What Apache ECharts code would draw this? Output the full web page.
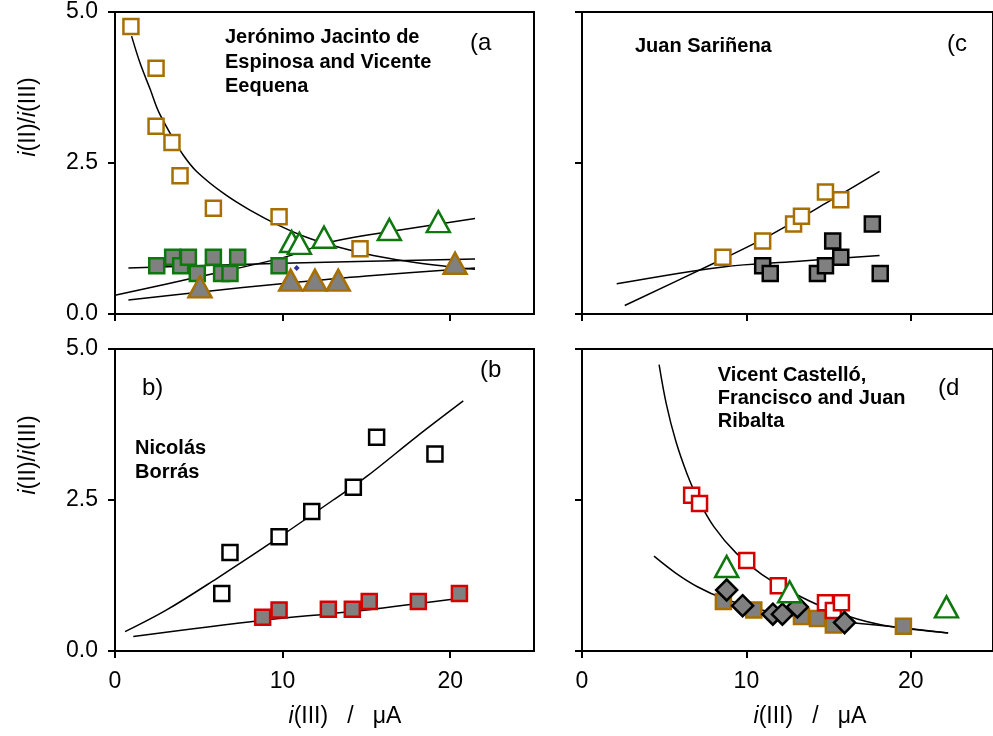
<!DOCTYPE html>
<html><head><meta charset="utf-8">
<script src="https://cdn.jsdelivr.net/npm/echarts@6/dist/echarts.min.js"></script>
<style>html,body{margin:0;padding:0;background:#fff}#c{width:993px;height:736px}</style>
</head><body><div id="c"></div>
<script>
// ---------- data ----------
const xTickValues = [0, 10, 20];
const yTickLabels = ['0.0', '2.5', '5.0'];

// Panel (a) Jerónimo Jacinto de Espinosa and Vicente Eequena
const aTanOpen = [[0.95,4.76],[2.45,4.07],[2.45,3.11],[3.4,2.84],[3.88,2.29],[5.87,1.75],[9.79,1.61],[14.62,1.08]];
const aGreenFilled = [[2.49,0.80],[3.44,0.94],[3.92,0.80],[4.38,0.94],[4.91,0.67],[5.87,0.94],[6.36,0.67],[6.86,0.67],[7.32,0.94],[9.79,0.80]];
const aGreenTri = [[10.54,1.20],[11.0,1.17],[12.47,1.27],[16.37,1.40],[19.29,1.53]];
const aTanTri = [[5.07,0.45],[10.48,0.56],[11.93,0.56],[13.32,0.56],[20.29,0.84]];
const aBlueDot = [[10.84,0.76]];
const aCurveDecay = [[0.99,4.60],[1.5,4.15],[2.1,3.72],[2.6,3.35],[3.4,2.94],[4.1,2.62],[4.87,2.36],[6.46,2.00],[8.05,1.72],[9.84,1.46],[11.63,1.25],[13.42,1.10],[15.41,0.97],[18.0,0.85],[21.48,0.74]];
const aLineFlat = [[0.8,0.76],[10.0,0.84],[21.48,0.91]];
const aLineRise = [[0,0.31],[5.07,0.62],[10.24,0.95],[13.0,1.20],[17.0,1.39],[21.48,1.58]];
const aLineLow = [[0.8,0.23],[5.0,0.36],[10.24,0.51],[15.0,0.63],[21.48,0.76]];

// Panel (c) Juan Sariñena
const cTanOpen = [[8.57,0.94],[10.99,1.21],[12.87,1.49],[13.35,1.62],[14.81,2.02],[15.74,1.89]];
const cGrayFilled = [[10.99,0.80],[11.45,0.67],[14.32,0.67],[14.81,0.80],[15.25,1.21],[15.74,0.94],[17.66,1.49],[18.14,0.67]];
const cLineSteep = [[2.60,0.14],[8.02,0.84],[10.93,1.23],[14.81,1.83],[18.10,2.36]];
const cLineFlat = [[2.11,0.50],[8.57,0.78],[13.0,0.87],[18.1,0.97]];

// Panel (b) Nicolás Borrás
const bBlackOpen = [[6.37,0.95],[6.86,1.63],[9.79,1.89],[11.74,2.31],[14.22,2.71],[15.61,3.54],[19.09,3.26]];
const bRedFilled = [[8.81,0.56],[9.79,0.68],[12.73,0.69],[14.16,0.69],[15.17,0.82],[18.10,0.82],[20.55,0.95]];
const bLineUpper = [[0.6,0.32],[3.08,0.68],[6.07,1.20],[9.25,1.78],[13.02,2.50],[15.02,2.89],[18.0,3.55],[20.78,4.14]];
const bLineLower = [[1.09,0.24],[8.81,0.51],[14.02,0.65],[20.48,0.87]];

// Panel (d) Vicent Castelló, Francisco and Juan Ribalta
const dRedOpen = [[6.67,2.58],[7.15,2.44],[10.02,1.50],[11.94,1.08],[14.81,0.80],[15.29,0.67],[15.78,0.80]];
const dGreenTri = [[8.80,1.40],[12.63,0.98],[22.17,0.73]];
const dTanFilled = [[8.60,0.82],[10.45,0.68],[13.35,0.57],[14.32,0.54],[15.29,0.43],[19.55,0.41]];
const dGrayDiamond = [[8.80,1.01],[9.77,0.75],[11.61,0.61],[12.19,0.61],[13.10,0.73],[15.97,0.47]];
const dCurveSteep = [[4.69,4.74],[5.12,4.10],[5.70,3.48],[6.38,2.94],[7.05,2.52],[8.02,2.06],[9.38,1.62],[10.93,1.27],[12.87,0.96],[14.81,0.71],[16.74,0.53],[18.68,0.41],[22.27,0.30]];
const dCurveGentle = [[4.38,1.57],[5.70,1.29],[7.05,1.06],[8.60,0.87],[10.93,0.68],[12.87,0.58],[14.81,0.51],[16.74,0.46],[19.65,0.38],[22.27,0.30]];

// ---------- styling ----------
const TAN = '#a66f00', GREEN = '#0e780e', RED = '#d40000', GRAY = '#808080', BLACK = '#000';
const FONT = 'Liberation Sans, Arial, sans-serif';

const grids = [
  {left:115, top:12, width:419, height:302},
  {left:582, top:12, width:430, height:302},
  {left:115, top:349, width:419, height:302},
  {left:582, top:349, width:430, height:302}
].map(g => Object.assign(g, {show:true, borderColor:BLACK, borderWidth:2, backgroundColor:'transparent'}));

function xAx(gi, labels) {
  return {type:'value', gridIndex:gi, min:0, max:25, interval:10,
    axisLine:{show:true, onZero:false, lineStyle:{color:BLACK, width:2}},
    axisTick:{show:true, inside:false, length:7, lineStyle:{color:BLACK, width:2},
      customValues: xTickValues},
    axisLabel:{show:labels, margin:19, fontSize:23, color:BLACK, fontFamily:FONT,
      customValues: xTickValues, formatter: v => String(v)},
    splitLine:{show:false}};
}
function yAx(gi, labels) {
  return {type:'value', gridIndex:gi, min:0, max:5, interval:2.5,
    axisLine:{show:true, onZero:false, lineStyle:{color:BLACK, width:2}},
    axisTick:{show:true, inside:false, length:7, lineStyle:{color:BLACK, width:2}},
    axisLabel:{show:labels, margin:17, fontSize:23, color:BLACK, fontFamily:FONT,
      formatter: v => yTickLabels[Math.round(v/2.5)]},
    splitLine:{show:false}};
}

function sc(data, gi, symbol, size, fill, border) {
  return {type:'scatter', xAxisIndex:gi, yAxisIndex:gi, data:data, symbol:symbol, symbolSize:size,
    itemStyle:{color:fill, borderColor:border, borderWidth:2.5, opacity:1}, z:3, silent:true, clip:false};
}
function ln(data, gi) {
  return {type:'line', xAxisIndex:gi, yAxisIndex:gi, data:data, smooth:0.35, symbol:'none', showSymbol:false,
    lineStyle:{color:BLACK, width:1.5}, z:2, silent:true};
}

const SQ = 15, TRI = [23,21], DIA = 21;

const series = [
  ln(aCurveDecay,0), ln(aLineFlat,0), ln(aLineRise,0), ln(aLineLow,0),
  sc(aTanOpen,0,'rect',SQ,'#fff',TAN),
  sc(aGreenFilled,0,'rect',SQ,GRAY,GREEN),
  sc(aGreenTri,0,'triangle',TRI,'#fff',GREEN),
  sc(aTanTri,0,'triangle',TRI,GRAY,TAN),
  {type:'scatter', xAxisIndex:0, yAxisIndex:0, data:aBlueDot, symbol:'diamond', symbolSize:6, itemStyle:{color:'#000080'}, z:4, silent:true},

  ln(cLineSteep,1), ln(cLineFlat,1),
  sc(cTanOpen,1,'rect',SQ,'#fff',TAN),
  sc(cGrayFilled,1,'rect',SQ,GRAY,BLACK),

  ln(bLineUpper,2), ln(bLineLower,2),
  sc(bBlackOpen,2,'rect',SQ,'#fff',BLACK),
  sc(bRedFilled,2,'rect',SQ,GRAY,RED),

  ln(dCurveSteep,3), ln(dCurveGentle,3),
  sc(dTanFilled,3,'rect',SQ,GRAY,TAN),
  sc(dRedOpen,3,'rect',SQ,'#fff',RED),
  sc(dGrayDiamond,3,'diamond',DIA,GRAY,BLACK),
  sc(dGreenTri,3,'triangle',TRI,'#fff',GREEN)
];

function txt(x, y, s, size, bold, align) {
  return {type:'text', x:x, y:y, silent:true, z:10,
    style:{text:s, fill:BLACK, font:(bold?'bold ':'') + size + 'px ' + FONT, textAlign:align||'left', textVerticalAlign:'middle'}};
}
function richTxt(x, y, s, rot) {
  return {type:'text', x:x, y:y, rotation:rot||0, silent:true, z:10,
    style:{text:s, fill:BLACK, font:'23px ' + FONT, textAlign:'center', textVerticalAlign:'middle',
      rich:{i:{fontStyle:'italic', fontSize:23, fontFamily:FONT, fill:BLACK}}}};
}

const graphic = [
  txt(225,37.3,'Jerónimo Jacinto de',20,true),
  txt(225,62,'Espinosa and Vicente',20,true),
  txt(225,86.7,'Eequena',20,true),
  txt(470,43,'(a',24,false),
  txt(635,46,'Juan Sariñena',20,true),
  txt(947,44,'(c',24,false),
  txt(142,388,'b)',24,false),
  txt(480,370,'(b',24,false),
  txt(135,448.3,'Nicolás',20,true),
  txt(135,472.7,'Borrás',20,true),
  txt(717.7,375,'Vicent Castelló,',20,true),
  txt(717.7,398.3,'Francisco and Juan',20,true),
  txt(717.7,421.7,'Ribalta',20,true),
  txt(938,388,'(d',24,false),
  richTxt(345,717,'{i|i}(III)   /   μA'),
  richTxt(810,717,'{i|i}(III)   /   μA'),
  richTxt(29,117,'{i|i}(II)/{i|i}(III)', Math.PI/2),
  richTxt(29,455,'{i|i}(II)/{i|i}(III)', Math.PI/2)
];

const chart = echarts.init(document.getElementById('c'), null, {renderer:'canvas'});
chart.setOption({
  animation:false,
  backgroundColor:'#fff',
  grid:grids,
  xAxis:[xAx(0,false), xAx(1,false), xAx(2,true), xAx(3,true)],
  yAxis:[yAx(0,true), yAx(1,false), yAx(2,true), yAx(3,false)],
  series:series,
  graphic:graphic
});
</script>
</body></html>
